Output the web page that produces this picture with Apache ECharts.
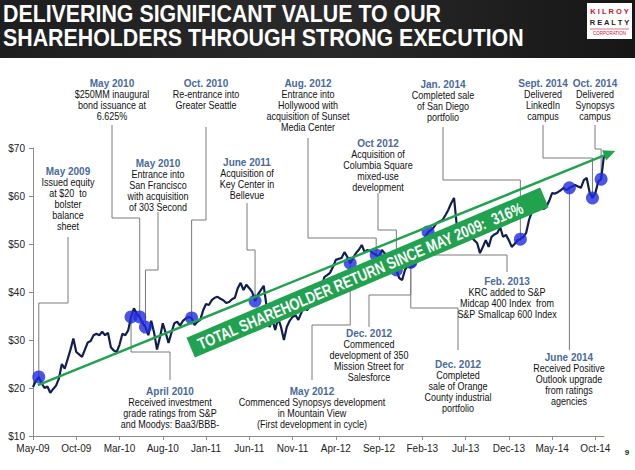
<!DOCTYPE html>
<html><head><meta charset="utf-8">
<script src="https://cdn.jsdelivr.net/npm/echarts@6/dist/echarts.min.js"></script>
<style>html,body{margin:0;padding:0;background:#fff}#c{width:635px;height:470px}</style>
</head><body><div id="c"></div>
<script>
// ---------------- DATA ----------------
const MONTHS = ['Jan','Feb','Mar','Apr','May','Jun','Jul','Aug','Sep','Oct','Nov','Dec'];
// sample dates: 1st, 11th and 21st of each month, May 2009 .. 1 Nov 2014
const categories = [];
for (let k = 0; k <= 66; k++) {
  const yr = 2009 + Math.floor((4 + k) / 12), mo = (4 + k) % 12;
  for (const d of [1, 11, 21]) {
    if (k === 66 && d > 1) break;
    categories.push(yr + '-' + String(mo + 1).padStart(2, '0') + '-' + String(d).padStart(2, '0'));
  }
}
// KRC share price ($) at those dates
const price = [
  20.2,21.5,22.3,21.0,20.0,20.3,19.0,19.8,20.5,22.0,
  25.0,24.0,26.0,28.0,30.3,27.5,27.0,26.5,28.0,29.5,
  29.8,31.0,31.3,31.0,31.7,31.0,31.5,28.5,27.8,27.5,
  29.0,31.3,31.0,32.0,34.8,36.6,35.5,34.8,33.5,32.7,
  31.0,34.0,31.5,28.0,30.5,33.5,31.5,29.4,31.5,33.5,
  33.8,33.0,34.0,34.5,34.8,34.6,33.1,33.8,34.2,36.2,
  37.5,37.3,38.3,38.8,39.0,38.6,38.3,37.7,37.9,38.5,
  38.8,40.8,41.9,40.4,41.5,40.8,40.0,38.1,39.5,40.4,
  41.3,37.0,32.7,34.2,32.1,34.6,32.7,30.0,32.7,34.0,
  34.8,35.2,34.2,35.6,36.9,36.2,37.0,37.5,38.3,39.0,
  40.4,43.1,43.5,44.0,45.2,46.7,46.9,47.1,48.3,47.3,
  46.0,47.1,48.1,48.8,49.8,48.3,48.75,48.5,48.0,47.7,
  47.3,48.75,48.0,47.7,45.6,45.0,44.6,42.9,42.5,44.6,
  45.6,46.25,46.0,46.8,47.3,49.5,51.5,52.5,52.9,53.5,
  54.4,54.7,55.0,56.0,57.1,58.5,59.6,53.5,51.0,50.8,
  51.5,52.0,51.5,50.8,50.2,48.1,49.4,50.8,49.4,51.5,
  52.0,52.3,53.5,51.5,51.9,50.8,49.4,50.0,50.8,51.0,
  51.5,52.3,55.0,56.7,57.5,57.0,57.8,57.3,57.7,59.0,
  60.6,60.5,60.8,61.2,61.7,61.2,61.7,62.0,62.3,62.0,
  61.7,63.3,63.75,60.8,59.6,60.6,63.0,63.5,68.5
];
const yTicks = [10, 20, 30, 40, 50, 60, 70];
const eventTitles = [
  'May 2009','May 2010','May 2010','Oct. 2010','June 2011','Aug. 2012','Oct 2012','Jan. 2014',
  'Sept. 2014','Oct. 2014','April 2010','May 2012','Dec. 2012','Dec. 2012','Feb. 2013','June 2014'
];
const eventTexts = [
  ['Issued equity','at $20  to','bolster','balance','sheet'],
  ['$250MM inaugural','bond issuance at','6.625%'],
  ['Entrance into','San Francisco','with acquisition','of 303 Second'],
  ['Re-entrance into','Greater Seattle'],
  ['Acquisition of','Key Center in','Bellevue'],
  ['Entrance into','Hollywood with','acquisition of Sunset','Media Center'],
  ['Acquisition of','Columbia Square','mixed-use','development'],
  ['Completed sale','of San Diego','portfolio'],
  ['Delivered','LinkedIn','campus'],
  ['Delivered','Synopsys','campus'],
  ['Received investment','grade ratings from S&P','and Moodys: Baa3/BBB-'],
  ['Commenced Synopsys development','in Mountain View','(First development in cycle)'],
  ['Commenced','development of 350','Mission Street for','Salesforce'],
  ['Completed','sale of Orange','County industrial','portfolio'],
  ['KRC added to S&P','Midcap 400 Index  from','S&P Smallcap 600 Index'],
  ['Received Positive','Outlook upgrade','from ratings','agencies']
];
const eventDates = [
  '2009-05-21','2010-05-11','2010-06-01','2010-11-11','2011-06-21','2012-08-21','2012-11-01','2014-01-11',
  '2014-09-21','2014-10-21','2010-04-11','2012-05-21','2012-12-21','2012-12-21','2013-02-21','2014-07-01'
];
const eventPrices = [22.3,34.8,32.7,34.6,38.1,47.7,44.6,51.0,59.6,63.5,34.8,46.0,46.25,46.25,52.5,61.7];
const titleLines = ['DELIVERING SIGNIFICANT VALUE TO OUR','SHAREHOLDERS THROUGH STRONG EXECUTION'];
const bannerText = 'TOTAL SHAREHOLDER RETURN SINCE MAY 2009:  316%';
const pageNumber = '9';

// ---------------- LAYOUT (label placement, pixels) ----------------
// [text centre x, title centre y, connector start y, elbow y]
const calloutLayout = [
  [68,171,237,303],[112,83,125,218],[158,163,212,270],[206,83,127,220],
  [247,162,203,250],[308,83,138,238],[378,143,193,230],[443,84,127,180],
  [543,83,125,158],[595,83,125,149],[170,391,380,352],[312,391,380,325],
  [369,333,327,295],[458,364,350,308],[507,281,272,255],[569,357,350,350]
];
const FONT = '"Liberation Sans", Arial, Helvetica, sans-serif';
const GREEN = '#21a24f';

const chart = echarts.init(document.getElementById('c'), null, {renderer: 'svg'});
const isTick = (i) => i % 15 === 0;
chart.setOption({
  animation: false,
  backgroundColor: '#fff',
  grid: {left: 33, right: 31, top: 148, bottom: 34, containLabel: false},
  xAxis: {
    type: 'category', data: categories, boundaryGap: false,
    axisLine: {lineStyle: {color: '#8c8c8c', width: 1}},
    axisTick: {show: true, interval: isTick, length: 4, lineStyle: {color: '#8c8c8c'}},
    axisLabel: {
      interval: isTick, margin: 7, color: '#222', fontSize: 10, fontFamily: FONT,
      formatter: (v) => MONTHS[+v.slice(5, 7) - 1] + '-' + v.slice(2, 4)
    },
    splitLine: {show: false}
  },
  yAxis: {
    type: 'value', min: yTicks[0], max: yTicks[yTicks.length - 1], interval: 10,
    axisLine: {show: true, lineStyle: {color: '#8c8c8c', width: 1}},
    axisTick: {show: true, length: 4, lineStyle: {color: '#8c8c8c'}},
    axisLabel: {margin: 8, color: '#222', fontSize: 10, fontFamily: FONT, formatter: (v) => '$' + v},
    splitLine: {show: false}
  },
  series: [
    {type: 'line', data: price, symbol: 'none', z: 3,
     lineStyle: {color: '#101f4e', width: 2.2}},
    {type: 'scatter', z: 4, symbol: 'circle', symbolSize: 13,
     itemStyle: {color: '#1f2be0'},
     data: eventDates.map((d, i) => [d, eventPrices[i]])}
  ]
});

// pixel helper (linear in category index so fractional positions are allowed)
function px(i, p) {
  const a = chart.convertToPixel({gridIndex: 0}, [0, p]);
  const b = chart.convertToPixel({gridIndex: 0}, [1, p]);
  return [a[0] + (b[0] - a[0]) * i, a[1]];
}

const g = [];
// header band
g.push({type: 'rect', z: 1, shape: {x: 0, y: 0, width: 635, height: 58},
  style: {fill: new echarts.graphic.LinearGradient(0, 0, 1, 0, [
    {offset: 0, color: '#1e1e1e'}, {offset: 0.5, color: '#2a2a2a'}, {offset: 1, color: '#161616'}])}});
titleLines.forEach((t, i) => g.push({type: 'text', z: 2, x: 3, y: 14 + i * 24, scaleX: 0.89,
  style: {text: t, font: 'bold 24px ' + FONT, fill: '#fff', textAlign: 'left', textVerticalAlign: 'middle'}}));
// logo
g.push({type: 'rect', z: 2, shape: {x: 587, y: 3, width: 45, height: 36}, style: {fill: '#fff'}});
g.push({type: 'text', z: 3, x: 609.5, y: 11, style: {text: 'K I L R O Y', font: 'bold 7.5px ' + FONT, fill: '#c8102e', textAlign: 'center', textVerticalAlign: 'middle'}});
g.push({type: 'text', z: 3, x: 609.5, y: 22, style: {text: 'R E A L T Y', font: 'bold 7.5px ' + FONT, fill: '#222', textAlign: 'center', textVerticalAlign: 'middle'}});
g.push({type: 'line', z: 3, shape: {x1: 590, y1: 29, x2: 629, y2: 29}, style: {stroke: '#c8102e', lineWidth: 0.6}});
g.push({type: 'text', z: 3, x: 609.5, y: 33.5, style: {text: 'CORPORATION', font: '4.5px ' + FONT, fill: '#c8102e', textAlign: 'center', textVerticalAlign: 'middle'}});

// callouts
eventTitles.forEach((title, i) => {
  const [cx, ty, sy, ey] = calloutLayout[i];
  const m = chart.convertToPixel({gridIndex: 0}, [eventDates[i], eventPrices[i]]);
  g.push({type: 'polyline', z: 1, shape: {points: [[cx, sy], [cx, ey], [m[0], ey], [m[0], m[1]]]},
    style: {stroke: '#7a7a7a', lineWidth: 1, fill: null}});
  g.push({type: 'text', z: 6, x: cx, y: ty,
    style: {text: title, font: 'bold 10px ' + FONT, fill: '#4a6a9c', textAlign: 'center', textVerticalAlign: 'middle'}});
  g.push({type: 'text', z: 6, x: cx, y: ty + 6, scaleX: 0.9,
    style: {text: eventTexts[i].join('\n'), font: '10px ' + FONT, lineHeight: 10.9, fill: '#111', textAlign: 'center', textVerticalAlign: 'top'}});
});

// total-return arrow
const a0 = px(1.7, 20.6), a1 = px(201.9, 69.4);
const dx = a1[0] - a0[0], dy = a1[1] - a0[1], len = Math.hypot(dx, dy);
const ux = dx / len, uy = dy / len;
const base = [a1[0] - ux * 12, a1[1] - uy * 12];
g.push({type: 'line', z: 20, shape: {x1: a0[0], y1: a0[1], x2: base[0], y2: base[1]}, style: {stroke: GREEN, lineWidth: 2.4}});
g.push({type: 'polygon', z: 20, shape: {points: [a1, [base[0] - uy * 5.5, base[1] + ux * 5.5], [base[0] + uy * 5.5, base[1] - ux * 5.5]]}, style: {fill: GREEN}});
// banner
const bc = px(116.0, 44.06);
const ang = 23 * Math.PI / 180;
g.push({type: 'group', x: bc[0], y: bc[1], rotation: ang, z: 20, children: [
  {type: 'rect', z: 20, shape: {x: -192, y: -10.75, width: 384, height: 21.5}, style: {fill: GREEN}},
  {type: 'text', z: 21, x: -8, y: 0.5, scaleX: 0.78,
   style: {text: bannerText, font: 'bold 16.5px ' + FONT, fill: '#fff', textAlign: 'center', textVerticalAlign: 'middle'}}
]});
// page number
g.push({type: 'text', z: 2, x: 627, y: 452, style: {text: pageNumber, font: 'bold 8px ' + FONT, fill: '#222', textAlign: 'center', textVerticalAlign: 'middle'}});

chart.setOption({graphic: {elements: g}});
</script></body></html>
